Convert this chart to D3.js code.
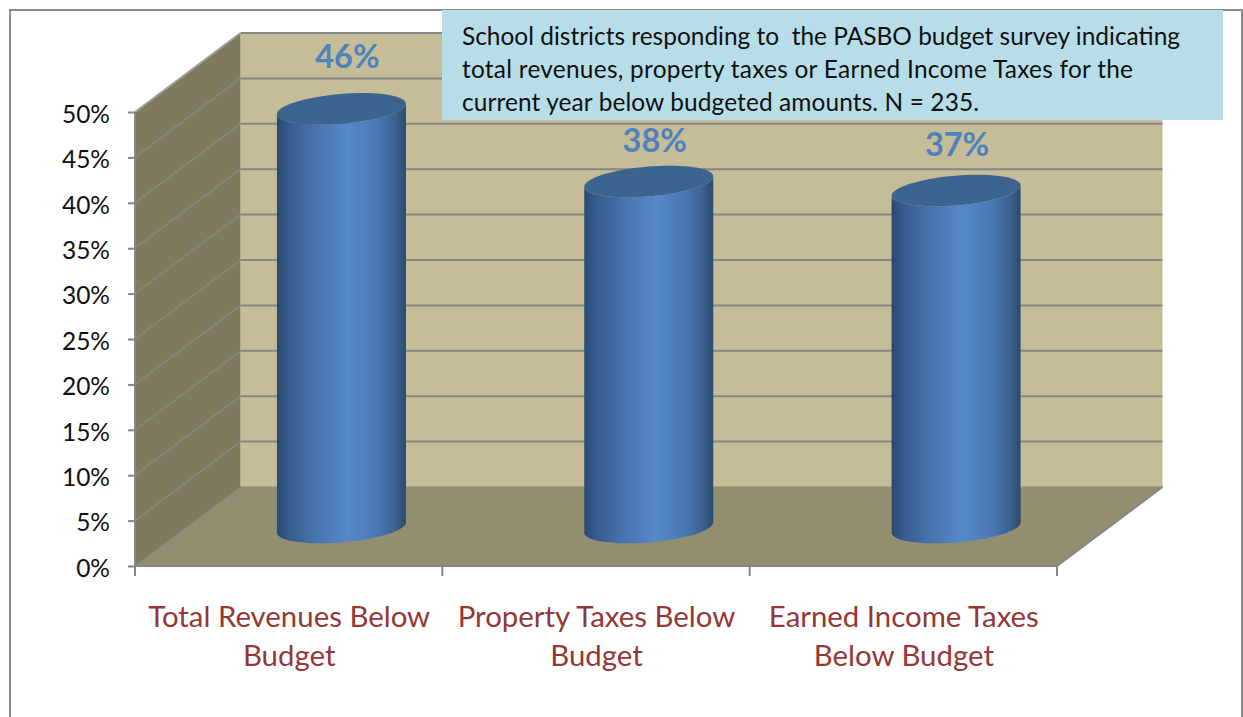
<!DOCTYPE html>
<html>
<head>
<meta charset="utf-8">
<script src="https://cdn.jsdelivr.net/npm/d3@7/dist/d3.min.js"></script>
<style>
  html, body { margin: 0; padding: 0; background: #fff; }
  svg { display: block; }
  text { font-family: Lato, "Open Sans", sans-serif; }
</style>
</head>
<body>
<svg id="chart" width="1243" height="717"></svg>
<script>
// Survey results
const categories = [
  ["Total Revenues Below", "Budget"],
  ["Property Taxes Below", "Budget"],
  ["Earned Income Taxes", "Below Budget"]
];
const categoryKeys = ["revenues", "property", "income"];
const values = [46, 38, 37];
const valueLabels = ["46%", "38%", "37%"];
const yTicks = [0, 5, 10, 15, 20, 25, 30, 35, 40, 45, 50];
const noteLines = [
  "School districts responding to  the PASBO budget survey indicating",
  "total revenues, property taxes or Earned Income Taxes for the",
  "current year below budgeted amounts. N = 235."
];

const svg = d3.select("#chart");
const W = 1243, H = 717;

// Plot box in the front plane, plus the depth vector to the back wall
const plotLeft = 135, plotRight = 1057, plotBottom = 566, plotTop = 112;
const depth = { x: 105.5, y: -79 };

const x = d3.scaleBand().domain(categoryKeys).range([plotLeft, plotRight]).paddingInner(0).paddingOuter(0);
const y = d3.scaleLinear().domain([0, 50]).range([plotBottom, plotTop]);

// Place a point at a given front-plane position, pushed back by fraction f
const at = (px, py, f) => [px + depth.x * f, py + depth.y * f];
const poly = pts => "M" + pts.map(p => p.join(",")).join("L") + "Z";

// Outer frame
svg.append("path")
  .attr("d", `M10,${H}V10H${W - 1}V${H}`)
  .attr("fill", "none").attr("stroke", "#8c8c8c").attr("stroke-width", 2);

const grid = "#868686";

// Back wall
svg.append("path")
  .attr("d", poly([at(plotLeft, y(50), 1), at(plotRight, y(50), 1), at(plotRight, y(0), 1), at(plotLeft, y(0), 1)]))
  .attr("fill", "#c4bd97");

// Side wall
svg.append("path")
  .attr("d", poly([at(plotLeft, y(50), 0), at(plotLeft, y(50), 1), at(plotLeft, y(0), 1), at(plotLeft, y(0), 0)]))
  .attr("fill", "#7e7a5e");

// Floor
svg.append("path")
  .attr("d", poly([at(plotLeft, y(0), 0), at(plotLeft, y(0), 1), at(plotRight, y(0), 1), at(plotRight, y(0), 0)]))
  .attr("fill", "#938e70");

// Gridlines across the back wall and down the side wall
svg.append("g").selectAll("line").data(yTicks.filter(d => d > 0)).join("line")
  .attr("x1", at(plotLeft, 0, 1)[0]).attr("x2", at(plotRight, 0, 1)[0])
  .attr("y1", d => at(plotLeft, y(d), 1)[1]).attr("y2", d => at(plotLeft, y(d), 1)[1])
  .attr("stroke", grid).attr("stroke-width", 2);

svg.append("g").selectAll("line").data(yTicks).join("line")
  .attr("x1", plotLeft).attr("x2", at(plotLeft, 0, 1)[0])
  .attr("y1", d => y(d)).attr("y2", d => at(plotLeft, y(d), 1)[1])
  .attr("stroke", d => d === 50 ? "#a0a0a0" : "#868580").attr("stroke-width", d => d === 50 ? 2 : 1.5);

// Right edge of the floor
svg.append("line")
  .attr("x1", plotRight).attr("y1", y(0))
  .attr("x2", at(plotRight, 0, 1)[0]).attr("y2", at(plotRight, y(0), 1)[1])
  .attr("stroke", grid).attr("stroke-width", 2);

// Floor's rear edge
svg.append("line")
  .attr("x1", at(plotLeft, 0, 1)[0]).attr("x2", at(plotRight, 0, 1)[0])
  .attr("y1", at(plotLeft, y(0), 1)[1]).attr("y2", at(plotLeft, y(0), 1)[1])
  .attr("stroke", "#8f8b74").attr("stroke-width", 1);

// Value axis
const yAxis = d3.axisLeft(y).tickValues(yTicks).tickFormat(d => d + "%").tickSize(7).tickPadding(18);
const yG = svg.append("g").attr("transform", `translate(${plotLeft},0)`).call(yAxis);
yG.select(".domain").attr("stroke", grid).attr("stroke-width", 2).attr("d", `M0,${y(50)}V${y(0)}`);
yG.selectAll(".tick line").attr("stroke", grid).attr("stroke-width", 2);
yG.selectAll(".tick text").attr("font-size", 24.5).attr("fill", "#111").attr("dy", "0.42em")
  .style("font-family", "Lato");

// Category axis: baseline and ticks at the band boundaries
const xEdges = categoryKeys.map(k => x(k)).concat(plotRight);
svg.append("line").attr("x1", plotLeft).attr("x2", plotRight).attr("y1", y(0)).attr("y2", y(0))
  .attr("stroke", grid).attr("stroke-width", 2);
svg.append("g").selectAll("line").data(xEdges).join("line")
  .attr("x1", d => d).attr("x2", d => d).attr("y1", y(0)).attr("y2", y(0) + 10)
  .attr("stroke", grid).attr("stroke-width", 2);

// Category labels
const catG = svg.append("g").selectAll("text").data(categories).join("text")
  .attr("text-anchor", "middle").attr("font-size", 29.4).attr("fill", "#953735")
  .attr("transform", (d, i) => `translate(${x(categoryKeys[i]) + x.bandwidth() / 2 + 0.5},0)`);
catG.selectAll("tspan").data(d => d).join("tspan")
  .attr("x", 0).attr("y", (d, i) => 627 + i * 39).text(d => d);

// Cylinders
const defs = svg.append("defs");
const grad = defs.append("linearGradient").attr("id", "barShade")
  .attr("x1", 0).attr("x2", 1).attr("y1", 0).attr("y2", 0);
[[0, "#2b4a73"], [0.1, "#375d8e"], [0.3, "#4774ad"], [0.55, "#5688ca"], [0.78, "#4a78b4"], [0.92, "#3b618e"], [1, "#2b4a6f"]]
  .forEach(([o, c]) => grad.append("stop").attr("offset", o).attr("stop-color", c));

const radius = 64.5;                 // half the visible cylinder width
const tilt = 0.2;                    // circle's depth radius as a fraction of the depth vector
const bx = depth.x * tilt, by = depth.y * tilt;
const ax = Math.sqrt(radius * radius - bx * bx);
const t0 = Math.atan2(bx, ax);       // angle where the outline reaches its rightmost point

const rim = (cx, cy, t) => [cx + ax * Math.cos(t) + bx * Math.sin(t), cy + by * Math.sin(t)];
const line = d3.line();

const bars = svg.append("g").selectAll("g").data(values).join("g");

bars.append("path")
  .attr("fill", "url(#barShade)")
  .attr("d", (d, i) => {
    const [cx, cyBase] = at(x(categoryKeys[i]) + x.bandwidth() / 2, y(0), 0.5);
    const cyTop = at(0, y(d), 0.5)[1];
    // Front half of the base rim, running from the rightmost point round to the leftmost
    const ts = d3.range(0, 61).map(k => t0 - k / 60 * Math.PI);
    const lower = ts.map(t => rim(cx, cyBase + 1, t));
    const upper = ts.map(t => rim(cx, cyTop, t)).reverse();
    return line(lower.concat(upper)) + "Z";
  });

bars.append("path")
  .attr("fill", "#3d6390")
  .attr("d", (d, i) => {
    const cx = at(x(categoryKeys[i]) + x.bandwidth() / 2, 0, 0.5)[0];
    const cyTop = at(0, y(d), 0.5)[1];
    return line(d3.range(0, 72).map(k => rim(cx, cyTop, k / 72 * 2 * Math.PI))) + "Z";
  });

// Value labels above each cylinder
const labelOffset = [[6, -41], [6, -29], [1, -35]];
svg.append("g").selectAll("text").data(values).join("text")
  .attr("text-anchor", "middle").attr("font-size", 32.5).attr("font-weight", 700).attr("fill", "#4f81bd")
  .attr("x", (d, i) => at(x(categoryKeys[i]) + x.bandwidth() / 2, 0, 0.5)[0] + labelOffset[i][0])
  .attr("y", (d, i) => at(0, y(d), 0.5)[1] + labelOffset[i][1])
  .text((d, i) => valueLabels[i]);

// Note box, each line set to its own measure
const noteWidths = [718, 671, 517];
svg.append("rect").attr("x", 442).attr("y", 10).attr("width", 781).attr("height", 110).attr("fill", "#b7dde8");
svg.append("g").selectAll("text").data(noteLines).join("text")
  .attr("x", 462).attr("y", (d, i) => 45 + i * 33)
  .attr("font-size", 24.45).attr("fill", "#111")
  .attr("textLength", (d, i) => noteWidths[i]).attr("lengthAdjust", "spacing")
  .style("white-space", "pre")
  .text(d => d);
</script>
</body>
</html>
